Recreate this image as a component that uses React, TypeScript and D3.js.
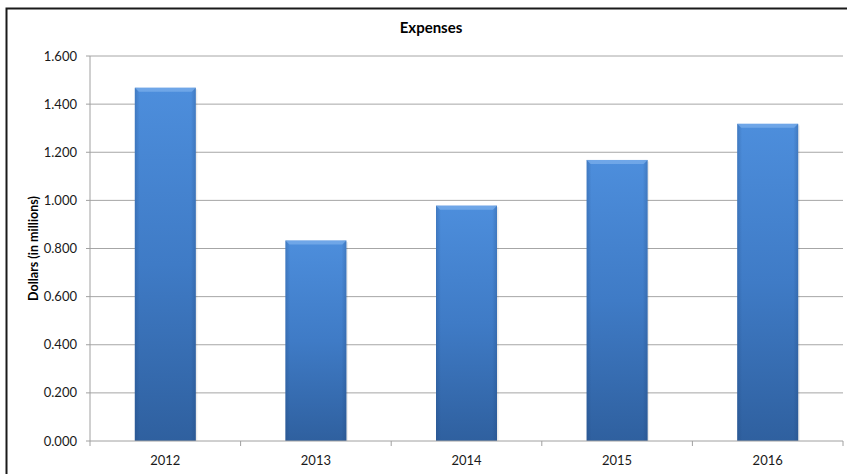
import React from "react";
import * as d3 from "d3";

const categories = ["2012", "2013", "2014", "2015", "2016"];
const expenses = [1.468, 0.833, 0.978, 1.168, 1.318];
const yTicks = [0, 0.2, 0.4, 0.6, 0.8, 1.0, 1.2, 1.4, 1.6];
const chartTitle = "Expenses";
const yAxisTitle = "Dollars (in millions)";

const W = 847;
const H = 474;
const left = 90;
const right = 843;
const top = 56;
const bottom = 441;
const FONT = "Lato, 'Open Sans', 'Liberation Sans', sans-serif";

export default function App() {
  const x = d3
    .scaleBand<string>()
    .domain(categories)
    .range([left, right])
    .paddingInner(0.595)
    .paddingOuter(0.2975);
  const y = d3.scaleLinear().domain([0, 1.6]).range([bottom, top]);
  const step = (right - left) / categories.length;
  const boundaries = d3.range(categories.length + 1).map((i) => left + i * step);

  return (
    <svg
      width={W}
      height={H}
      style={{ position: "absolute", left: 0, top: 0, background: "#fff" }}
      fontFamily={FONT}
    >
      <defs>
        <linearGradient id="barGrad" x1="0" y1="0" x2="0" y2="1">
          <stop offset="0%" stopColor="#4d8edc" />
          <stop offset="50%" stopColor="#3f7bc6" />
          <stop offset="100%" stopColor="#2f609f" />
        </linearGradient>
        <linearGradient id="edgeGrad" x1="0" y1="0" x2="1" y2="0">
          <stop offset="0%" stopColor="#1d3f70" stopOpacity={0.25} />
          <stop offset="8%" stopColor="#1d3f70" stopOpacity={0} />
          <stop offset="92%" stopColor="#1d3f70" stopOpacity={0} />
          <stop offset="100%" stopColor="#1d3f70" stopOpacity={0.25} />
        </linearGradient>
      </defs>
      <rect x={0} y={0} width={W} height={H} fill="#fff" />
      <rect x={6.5} y={8.5} width={900} height={600} fill="none" stroke="#1a1a1a" strokeWidth={2} />

      <text x={431} y={33} textAnchor="middle" fontSize={15} fontWeight="bold" fill="#000">
        {chartTitle}
      </text>

      {/* gridlines */}
      {yTicks.slice(1).map((t) => (
        <line key={t} x1={left} x2={right} y1={y(t)} y2={y(t)} stroke="#a6a6a6" strokeWidth={1} />
      ))}

      {/* bars */}
      {categories.map((c, i) => {
        const bx = x(c)!;
        const bw = x.bandwidth();
        const by = y(expenses[i]);
        const bh = bottom - by;
        return (
          <g key={c}>
            <rect x={bx + 1.5} y={by + 1.5} width={bw} height={bh - 1.5} fill="#000" opacity={0.08} />
            <rect x={bx} y={by} width={bw} height={bh} fill="url(#barGrad)" />
            <rect x={bx} y={by} width={bw} height={bh} fill="url(#edgeGrad)" />
            <polygon
              points={`${bx},${by} ${bx + bw},${by} ${bx + bw - 4},${by + 4} ${bx + 4},${by + 4}`}
              fill="#7eb0ec"
              opacity={0.7}
            />
          </g>
        );
      })}

      {/* y axis */}
      <line x1={left} x2={left} y1={top} y2={bottom} stroke="#a0a0a0" strokeWidth={1} />
      {yTicks.map((t) => (
        <g key={t}>
          <line x1={left - 4} x2={left} y1={y(t)} y2={y(t)} stroke="#a0a0a0" />
          <text x={77} y={y(t)} dy="0.35em" textAnchor="end" fontSize={13} fill="#1a1a1a">
            {d3.format(".3f")(t)}
          </text>
        </g>
      ))}

      {/* x axis */}
      <line x1={left} x2={right} y1={bottom} y2={bottom} stroke="#a0a0a0" strokeWidth={1} />
      {boundaries.map((b, i) => (
        <line key={i} x1={b} x2={b} y1={bottom} y2={bottom + 5} stroke="#a0a0a0" />
      ))}
      {categories.map((c) => (
        <text
          key={c}
          x={x(c)! + x.bandwidth() / 2}
          y={460}
          dy="0.35em"
          textAnchor="middle"
          fontSize={13}
          fill="#1a1a1a"
        >
          {c}
        </text>
      ))}

      <text
        transform={`translate(34, ${(top + bottom) / 2}) rotate(-90)`}
        textAnchor="middle"
        dy="0.35em"
        fontSize={12.5}
        fontWeight="bold"
        fill="#000"
      >
        {yAxisTitle}
      </text>
    </svg>
  );
}
